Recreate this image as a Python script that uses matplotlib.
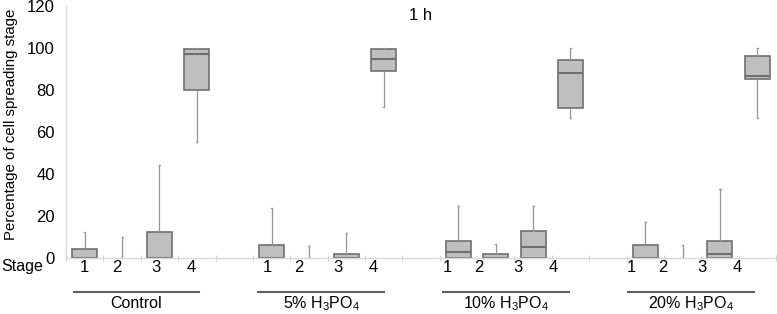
import numpy as np
import matplotlib
matplotlib.use('Agg')
import matplotlib.pyplot as plt
from matplotlib import transforms

plt.rcParams['font.family'] = ['Liberation Sans', 'DejaVu Sans']
plt.rcParams['mathtext.default'] = 'regular'

# groups and stages
groups = ['Control', '5% H$_3$PO$_4$', '10% H$_3$PO$_4$', '20% H$_3$PO$_4$']
stages = ['1', '2', '3', '4']

# box statistics per group, stages 1..4 (percent)
whislo = [[0, 0, 0, 55.2], [0, 0, 0, 72.2], [0, 0, 0, 66.7], [0, 0, 0, 66.7]]
q1 = [[0, 0, 0, 80.0], [0, 0, 0, 89.2], [0, 0, 0, 71.7], [0, 0, 0, 85.2]]
med = [[0, 0, 0, 97.3], [0, 0, 0, 94.8], [3.1, 0, 5.2, 88.4], [0, 0, 1.9, 87.0]]
q3 = [[4.3, 0, 12.4, 99.5], [6.2, 0, 2.2, 99.7], [8.2, 2.2, 12.9, 94.3], [6.2, 0, 8.4, 96.2]]
whishi = [[12.4, 10.3, 44.4, 100], [23.8, 5.9, 12.2, 100], [24.8, 7.0, 24.8, 100], [17.4, 6.2, 33.0, 100]]

yticks = [0, 20, 40, 60, 80, 100, 120]

fig = plt.figure(figsize=(7.77, 3.14), dpi=100)
ax = fig.add_axes([0.085, 0.177, 0.9137, 0.803])

stats = []
positions = []
for g in range(len(groups)):
    for s in range(len(stages)):
        stats.append(dict(whislo=whislo[g][s], q1=q1[g][s], med=med[g][s],
                          q3=q3[g][s], whishi=whishi[g][s], fliers=[]))
        positions.append(g * 5 + s)

bp = ax.bxp(stats, positions=positions, widths=0.67, patch_artist=True,
            showfliers=False, capwidths=0.03,
            boxprops=dict(facecolor='#bfbfbf', edgecolor='#707070', linewidth=1.2),
            medianprops=dict(color='#707070', linewidth=1.5),
            whiskerprops=dict(color='#959595', linewidth=0.9),
            capprops=dict(color='#959595', linewidth=0.9))

# hide flat boxes (all values zero) like the original
for i, st in enumerate(stats):
    if st['q3'] == st['q1']:
        bp['boxes'][i].set_visible(False)
        bp['medians'][i].set_visible(False)
    if st['whishi'] == st['whislo']:
        for art in bp['whiskers'][2 * i:2 * i + 2] + bp['caps'][2 * i:2 * i + 2]:
            art.set_visible(False)

ax.set_xlim(-0.5, 18.5)
ax.set_ylim(0, 120)
ax.set_yticks(yticks)
ax.tick_params(axis='y', length=0, pad=8, labelsize=12)
ax.set_xticks(np.arange(-0.5, 19, 1.0))
ax.set_xticklabels([])
ax.tick_params(axis='x', length=4, color='#d0d0d0', direction='inout')
for side in ['top', 'right']:
    ax.spines[side].set_visible(False)
for side in ['left', 'bottom']:
    ax.spines[side].set_color('#d9d9d9')
    ax.spines[side].set_linewidth(1.0)

ax.text(9, 115.4, '1 h', ha='center', va='center', fontsize=12)
fig.text(0.0145, 0.605, 'Percentage of cell spreading stage', rotation=90,
         ha='center', va='center', fontsize=10.8)

# stage labels and group annotations beneath the axis
trans = transforms.blended_transform_factory(ax.transData, fig.transFigure)
label_offsets = [0.0, -0.15, -0.1, -0.15]
group_shift = [0.0, -0.12, -0.3, -0.38]
for g in range(len(groups)):
    for s in range(len(stages)):
        ax.text(g * 5 + s + label_offsets[s] + group_shift[g], 1 - 267 / 314,
                stages[s], ha='center', va='center', fontsize=12,
                transform=trans)
    x0 = g * 5 - 0.3 - 0.05 * g
    x1 = g * 5 + 3.06 - 0.05 * g
    ax.plot([x0, x1], [1 - 292 / 314] * 2, color='#5f5f5f', linewidth=1.5,
            transform=trans, clip_on=False)
    ax.text((x0 + x1) / 2, 1 - 304 / 314, groups[g], ha='center',
            va='center', fontsize=11.5, transform=trans)

fig.text(0.002, 1 - 267 / 314, 'Stage', ha='left', va='center', fontsize=11.5)

fig.savefig('out.png', dpi=100)
